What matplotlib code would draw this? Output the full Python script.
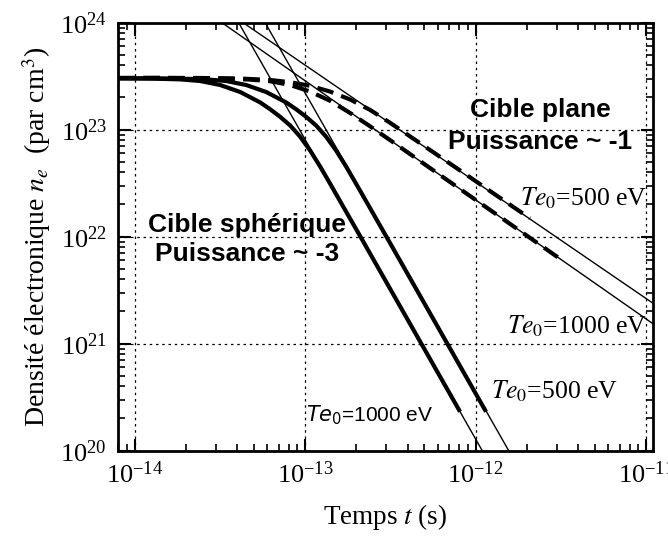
import matplotlib
matplotlib.use("Agg")
import matplotlib.pyplot as plt
import numpy as np
from matplotlib.ticker import LogLocator, LogFormatterMathtext, NullFormatter

plt.rcParams['font.family'] = ['Liberation Serif', 'DejaVu Serif']
plt.rcParams['mathtext.fontset'] = 'stix'

# ---- data (t in s, n in cm^-3) ----
# spherical target (solid thick curves)
sph1000_t = [8.02e-15, 1.236e-14, 1.854e-14, 2.427e-14, 3.178e-14, 4.166e-14, 5.455e-14, 6.24e-14,
             7.145e-14, 8.18e-14, 9.36e-14, 1.072e-13, 1.226e-13, 1.403e-13, 1.606e-13, 2.104e-13,
             3.609e-13, 8.11e-13]
sph1000_n = [3.022e23, 3.009e23, 2.952e23, 2.852e23, 2.617e23, 2.251e23, 1.799e23, 1.554e23,
             1.320e23, 1.095e23, 8.60e22, 6.38e22, 4.53e22, 3.13e22, 2.147e22, 1.013e22,
             2.237e21, 2.315e20]
sph500_t = [8.02e-15, 1.755e-14, 2.633e-14, 3.446e-14, 4.513e-14, 5.916e-14, 7.746e-14, 8.861e-14,
            1.0146e-13, 1.1616e-13, 1.329e-13, 1.522e-13, 1.741e-13, 1.992e-13, 2.281e-13, 2.988e-13,
            5.125e-13, 1.152e-12]
sph500_n = [3.022e23, 3.009e23, 2.952e23, 2.852e23, 2.617e23, 2.251e23, 1.799e23, 1.554e23,
            1.320e23, 1.095e23, 8.60e22, 6.38e22, 4.53e22, 3.13e22, 2.147e22, 1.013e22,
            2.237e21, 2.315e20]
# planar target (dashed thick curves)
pla1000_t = [8.02e-15, 1.414e-14, 2.427e-14, 3.639e-14, 4.767e-14, 6.24e-14, 8.18e-14, 1.072e-13,
             1.403e-13, 1.838e-13, 2.407e-13, 3.153e-13, 4.13e-13, 6.19e-13, 1.392e-12, 3.200e-12]
pla1000_n = [3.043e23, 3.049e23, 3.022e23, 2.990e23, 2.939e23, 2.840e23, 2.617e23, 2.271e23,
             1.863e23, 1.433e23, 1.076e23, 7.99e22, 5.92e22, 3.77e22, 1.531e22, 6.06e21]
pla500_t = [8.02e-15, 1.414e-14, 2.427e-14, 4.166e-14, 6.24e-14, 8.18e-14, 1.072e-13, 1.403e-13,
            1.838e-13, 2.407e-13, 3.153e-13, 4.13e-13, 5.41e-13, 8.11e-13, 1.392e-12, 2.087e-12]
pla500_n = [3.043e23, 3.049e23, 3.043e23, 3.009e23, 2.914e23, 2.779e23, 2.572e23, 2.271e23,
            1.915e23, 1.531e23, 1.160e23, 8.66e22, 6.46e22, 4.16e22, 2.305e22, 1.483e22]
# asymptotic power laws (thin lines, two points each)
fit_pla500_t = [4.336e-14, 1.093e-11]
fit_pla500_n = [1.0e24, 2.401e21]
fit_pla1000_t = [3.257e-14, 1.093e-11]
fit_pla1000_n = [1.0e24, 1.545e21]
fit_sph500_t = [5.835e-14, 1.565e-12]
fit_sph500_n = [1.0e24, 1.0e20]
fit_sph1000_t = [4.08e-14, 1.095e-12]
fit_sph1000_n = [1.0e24, 1.0e20]

fig = plt.figure(figsize=(6.68, 5.38), dpi=100)
ax = fig.add_axes([118/668, 1-450.7/538, (652.7-118)/668, (450.7-22.7)/538])
ax.set_xscale('log')
ax.set_yscale('log')
ax.set_xlim(8.0e-15, 1.094e-11)
ax.set_ylim(1e20, 1e24)

for tt, nn in [(fit_pla500_t, fit_pla500_n), (fit_pla1000_t, fit_pla1000_n),
               (fit_sph500_t, fit_sph500_n), (fit_sph1000_t, fit_sph1000_n)]:
    ax.plot(tt, nn, color='black', lw=1.0, zorder=3)

ax.plot(sph500_t, sph500_n, color='black', lw=3.0, solid_capstyle='butt', solid_joinstyle='round', zorder=4)
ax.plot(sph1000_t, sph1000_n, color='black', lw=3.0, solid_capstyle='butt', solid_joinstyle='round', zorder=4)
l1, = ax.plot(pla500_t, pla500_n, color='black', lw=3.0, ls='--', zorder=4)
l2, = ax.plot(pla1000_t, pla1000_n, color='black', lw=3.0, ls='--', zorder=4)
l1.set_dashes([4, 2])
l2.set_dashes([4, 2])

ax.grid(True, which='major', ls=(0, (2, 3)), color='black', lw=0.9)
ax.xaxis.set_major_locator(LogLocator(base=10, numticks=10))
ax.yaxis.set_major_locator(LogLocator(base=10, numticks=10))
ax.xaxis.set_minor_locator(LogLocator(base=10, subs=np.arange(2, 10), numticks=20))
ax.yaxis.set_minor_locator(LogLocator(base=10, subs=np.arange(2, 10), numticks=20))
ax.xaxis.set_major_formatter(LogFormatterMathtext())
ax.yaxis.set_major_formatter(LogFormatterMathtext())
ax.xaxis.set_minor_formatter(NullFormatter())
ax.yaxis.set_minor_formatter(NullFormatter())
ax.tick_params(which='both', direction='in', top=True, right=True, labelsize=19)
ax.tick_params(which='major', length=9, width=1.5, pad=8)
ax.tick_params(which='minor', length=5, width=1.2)
for s in ax.spines.values():
    s.set_linewidth(2.0)

ax.set_xlabel(r"Temps $t$ (s)", fontsize=19.5, labelpad=10)
ax.set_ylabel(r"Densité électronique $n_e$  (par cm$^3$)", fontsize=20, labelpad=5)

sans = ['Liberation Sans', 'DejaVu Sans']
ax.text(0.241, 0.494, "Cible sphérique\nPuissance ~ -3", transform=ax.transAxes,
        ha='center', va='center', fontsize=19, fontweight='bold', family=sans, linespacing=1.25)
ax.text(0.789, 0.758, "Cible plane\nPuissance ~ -1", transform=ax.transAxes,
        ha='center', va='center', fontsize=19, fontweight='bold', family=sans, linespacing=1.4)

ax.text(0.99, 0.59, r"$Te_{\mathit{0}}$=500 eV", transform=ax.transAxes, ha='right', va='center', fontsize=18.5)
ax.text(0.99, 0.29, r"$Te_{\mathit{0}}$=1000 eV", transform=ax.transAxes, ha='right', va='center', fontsize=18.5)
ax.text(0.935, 0.14, r"$Te_{\mathit{0}}$=500 eV", transform=ax.transAxes, ha='right', va='center', fontsize=18.5)
ax.text(0.589, 0.082, r"$Te_{\mathit{0}}$=1000 eV", transform=ax.transAxes,
        ha='right', va='center', fontsize=15, family=sans, math_fontfamily='dejavusans')

fig.savefig("out.png", dpi=100)
